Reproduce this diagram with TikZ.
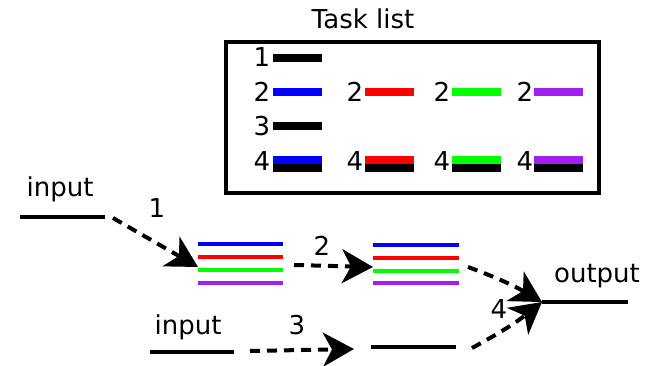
\documentclass[tikz,border=0pt]{standalone}
\usepackage{fontspec}
\setmainfont{DejaVu Sans}
\usetikzlibrary{arrows.meta}
\definecolor{tblue}{RGB}{0,0,255}
\definecolor{tred}{RGB}{255,0,0}
\definecolor{tgreen}{RGB}{0,255,0}
\definecolor{tpurple}{RGB}{160,32,240}
\tikzset{
  lbl/.style={font=\fontsize{26}{30}\selectfont, inner sep=0pt},
  keybar/.style={line width=8pt},
  wire/.style={line width=4pt},
  flow/.style={line width=4pt, dash pattern=on 10pt off 7pt,
    -{Stealth[length=31pt,width=34pt,inset=9pt]}},
}
\begin{document}
\begin{tikzpicture}[x=1pt,y=-1pt]
\useasboundingbox (0,0) rectangle (645,366);

% legend box
\node[lbl] (title) at (363,19) {Task list};
\draw[line width=4pt] (226,42) rectangle (599,193);

% row 1
\node[lbl] (k1) at (262,57) {1};
\draw[keybar] (273,58) -- (322,58);
% rows 2 and 4: one bar per sub-task colour
\foreach \dx/\bx/\c [count=\i] in {262/273/tblue,355/365/tred,442/452/tgreen,525/534/tpurple}{
  \node[lbl] (k2\i) at (\dx,92) {2};
  \draw[keybar,\c] (\bx,92) -- ++(49,0);
  \node[lbl] (k4\i) at (\dx,161) {4};
  \draw[keybar,\c] (\bx,160) -- ++(49,0);
  \draw[keybar,black] (\bx,168) -- ++(49,0);
}
% row 3
\node[lbl] (k3) at (262,126) {3};
\draw[keybar] (273,126) -- (322,126);

% first input
\node[lbl] (in1) at (60,189) {input};
\draw[wire] (20,217) -- (105,217);
\coordinate (s1) at (113,218);

% first split group
\foreach \y/\c in {244/tblue,257/tred,270/tgreen,283/tpurple}
  \draw[wire,\c] (198,\y) -- (283,\y);
\coordinate (g1in) at (198,267);
\coordinate (g1out) at (294,265);

% second split group
\foreach \y/\c in {245/tblue,258/tred,271/tgreen,283/tpurple}
  \draw[wire,\c] (373,\y) -- (459,\y);
\coordinate (g2in) at (373,267);
\coordinate (g2out) at (468,267);

% second input
\node[lbl] (in2) at (188,327) {input};
\draw[wire] (150,352) -- (234,352);
\coordinate (s3) at (250,351);
\draw[wire] (371,347) -- (456,347);
\coordinate (m3in) at (354,349);
\coordinate (m3out) at (472,348);

% output
\node[lbl] (out) at (597,276) {output};
\coordinate (join) at (542,302);
\draw[wire] (join) -- (628,302);

% step arrows
\draw[flow] (s1) -- (g1in);
\draw[flow] (g1out) -- (g2in);
\draw[flow] (s3) -- (m3in);
\draw[flow] (g2out) to[bend left=5] (join);
\draw[flow] (m3out) to[bend right=5] (join);

\node[lbl] (l1) at (157,208) {1};
\node[lbl] (l2) at (322,246) {2};
\node[lbl] (l3) at (297,325) {3};
\node[lbl] (l4) at (499,309) {4};
\end{tikzpicture}
\end{document}
